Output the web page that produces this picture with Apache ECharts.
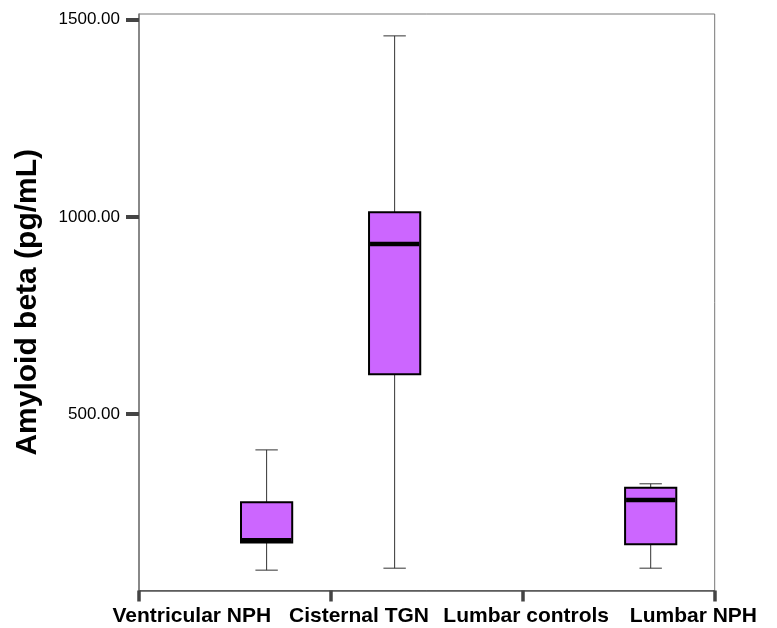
<!DOCTYPE html>
<html>
<head>
<meta charset="utf-8">
<script src="https://cdn.jsdelivr.net/npm/echarts@6/dist/echarts.min.js"></script>
<style>
  html, body { margin: 0; padding: 0; background: #ffffff; }
  #chart { width: 777px; height: 628px; }
</style>
</head>
<body>
<div id="chart"></div>
<script>
// Groups and five-number summaries (pg/mL); null = no observations
const categories = ['Ventricular NPH', 'Cisternal TGN', 'Lumbar controls', 'Lumbar NPH'];
const whiskerLow  = [104, 109, null, 109];
const quartile1   = [174, 601, null, 170];
const medians     = [180, 931, null, 282];
const quartile3   = [276, 1012, null, 313];
const whiskerHigh = [409, 1459, null, 323];
const yTicks = [500, 1000, 1500];

const Y_MIN = 52.4, Y_MAX = 1514.5;

const boxData = [];
categories.forEach(function (name, i) {
  if (medians[i] == null) return;
  boxData.push([i, whiskerLow[i], quartile1[i], medians[i], quartile3[i], whiskerHigh[i]]);
});

function renderBox(params, api) {
  const i = api.value(0);
  const band = api.size([1, 0])[0];
  const bw = band * 0.4;
  const cw = band * 0.175;
  const pLow = api.coord([i, api.value(1)]);
  const pQ1 = api.coord([i, api.value(2)]);
  const pMed = api.coord([i, api.value(3)]);
  const pQ3 = api.coord([i, api.value(4)]);
  const pHigh = api.coord([i, api.value(5)]);
  const x = pMed[0];
  const whisk = { stroke: '#333333', lineWidth: 1 };
  return {
    type: 'group',
    children: [
      { type: 'line', shape: { x1: x, y1: pHigh[1], x2: x, y2: pQ3[1] }, style: whisk },
      { type: 'line', shape: { x1: x, y1: pQ1[1], x2: x, y2: pLow[1] }, style: whisk },
      { type: 'line', shape: { x1: x - cw / 2, y1: pHigh[1], x2: x + cw / 2, y2: pHigh[1] }, style: whisk },
      { type: 'line', shape: { x1: x - cw / 2, y1: pLow[1], x2: x + cw / 2, y2: pLow[1] }, style: whisk },
      { type: 'rect', shape: { x: x - bw / 2, y: pQ3[1], width: bw, height: pQ1[1] - pQ3[1] },
        style: { fill: '#cc66ff', stroke: '#000000', lineWidth: 2 } },
      { type: 'line', shape: { x1: x - bw / 2 + 1, y1: pMed[1], x2: x + bw / 2 - 1, y2: pMed[1] },
        style: { stroke: '#000000', lineWidth: 4.5 } }
    ]
  };
}

const chart = echarts.init(document.getElementById('chart'), null, { renderer: 'canvas' });
chart.setOption({
  animation: false,
  backgroundColor: '#ffffff',
  grid: [
    // frame with ticks
    { left: 139, right: 62.3, top: 14, bottom: 37.5, show: true, borderColor: '#777777', borderWidth: 1 },
    // box positions
    { left: 202.6, right: 62.3, top: 14, bottom: 37.5 },
    // group labels
    { left: 108.2, width: 684, top: 14, bottom: 37.5 }
  ],
  xAxis: [
    {
      gridIndex: 0, type: 'value', min: 0, max: 3, interval: 1,
      axisLine: { show: true, lineStyle: { color: '#555555', width: 1.5 } },
      axisTick: { show: true, inside: false, length: 11, lineStyle: { color: '#444444', width: 3.5 } },
      axisLabel: { show: false },
      splitLine: { show: false }
    },
    {
      gridIndex: 1, type: 'category', data: categories, boundaryGap: true,
      axisLine: { show: false }, axisTick: { show: false }, axisLabel: { show: false }
    },
    {
      gridIndex: 2, type: 'category', data: categories, boundaryGap: true,
      axisLine: { show: false }, axisTick: { show: false },
      axisLabel: {
        show: true, interval: 0, margin: 15,
        fontFamily: 'Liberation Sans, Arial, sans-serif', fontWeight: 'bold', fontSize: 21, color: '#000000'
      }
    }
  ],
  yAxis: [
    {
      gridIndex: 0, type: 'value', min: Y_MIN, max: Y_MAX,
      name: 'Amyloid beta (pg/mL)', nameLocation: 'middle', nameRotate: 90, nameGap: 96,
      nameTextStyle: { fontFamily: 'Liberation Sans, Arial, sans-serif', fontWeight: 'bold', fontSize: 30, color: '#000000' },
      axisLine: { show: true, lineStyle: { color: '#777777', width: 1.5 } },
      axisTick: { show: true, length: 13, customValues: yTicks, lineStyle: { color: '#444444', width: 4 } },
      axisLabel: {
        show: true, margin: 19, customValues: yTicks,
        formatter: function (v) { return v.toFixed(2); },
        fontFamily: 'Liberation Sans, Arial, sans-serif', fontSize: 17, color: '#000000'
      },
      splitLine: { show: false }
    },
    { gridIndex: 1, type: 'value', min: Y_MIN, max: Y_MAX, show: false, splitLine: { show: false } },
    { gridIndex: 2, type: 'value', min: Y_MIN, max: Y_MAX, show: false, splitLine: { show: false } }
  ],
  series: [
    {
      type: 'custom',
      xAxisIndex: 1, yAxisIndex: 1,
      renderItem: renderBox,
      encode: { x: 0, y: [1, 2, 3, 4, 5] },
      data: boxData,
      z: 3
    }
  ]
});
</script>
</body>
</html>
